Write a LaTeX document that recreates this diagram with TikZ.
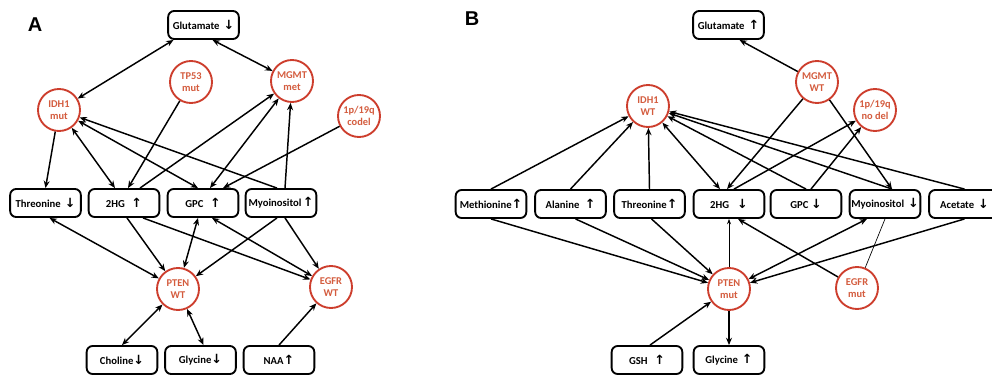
\documentclass[tikz,border=0pt]{standalone}
\usepackage{fontspec}
\setmainfont{Carlito}
\newfontfamily\symf{DejaVu Sans Bold}
\newfontfamily\labf{Liberation Sans}
\usetikzlibrary{arrows.meta,calc}
\definecolor{cborder}{RGB}{205,62,45}
\definecolor{ctext}{RGB}{212,92,62}
\newcommand{\upa}{{\symf\fontsize{9.5}{9}\selectfont ↑}}
\newcommand{\dna}{{\symf\fontsize{9.5}{9}\selectfont ↓}}
\begin{document}
\begin{tikzpicture}[x=0.75pt,y=-0.75pt,
  metab/.style={draw=black, fill=white, line width=1.4pt, rounded corners=4.5pt,
    minimum width=53pt, minimum height=21pt, inner sep=0pt,
    font=\fontsize{8}{9}\selectfont\bfseries},
  gene/.style={circle, draw=cborder, fill=white, line width=1.4pt, minimum size=31.5pt,
    inner sep=0pt, text=ctext, align=center,
    font=\fontsize{7.8}{9.5}\selectfont\bfseries},
  conn/.style={line width=1.1pt, draw=black},
  ar/.style={conn, -{Stealth[length=5.5pt,width=4.5pt]}},
  bar/.style={conn, {Stealth[length=5.5pt,width=4.5pt]}-{Stealth[length=5.5pt,width=4.5pt]}},
  thinar/.style={line width=0.5pt, draw=black, -{Stealth[length=4pt,width=3pt]}},
  thinln/.style={line width=0.5pt, draw=black},
  panel/.style={font=\labf\bfseries\fontsize{15}{15}\selectfont}
]
\useasboundingbox (0,0) rectangle (992,376);

% ---------------- Panel A ----------------
\node[panel] (labA) at (35,25) {A};
\node[metab] (aglu) at (203.5,25) {Glutamate\hspace{3pt}\dna};
\node[gene] (aidh) at (59,110) {IDH1\\mut};
\node[gene] (atp53) at (191,82) {TP53\\mut};
\node[gene] (amgmt) at (292,81) {MGMT\\met};
\node[gene] (a1p) at (359,116) {1p/19q\\codel};
\node[metab] (athr) at (45.5,203) {Threonine\hspace{3pt}\dna};
\node[metab] (a2hg) at (124,203) {2HG\hspace{5pt}\upa};
\node[metab] (agpc) at (203,203) {GPC\hspace{5pt}\upa};
\node[metab] (amyo) at (281,203) {Myoinositol\hspace{1pt}\upa};
\node[gene] (apten) at (178,289) {PTEN\\WT};
\node[gene] (aegfr) at (331,287) {EGFR\\WT};
\node[metab] (acho) at (122,360) {Choline\dna};
\node[metab] (agly) at (200.5,360) {Glycine\dna};
\node[metab] (anaa) at (279,360) {NAA\upa};

\draw[bar] ($(aglu.south)+(-30,0)$) -- (aidh);
\draw[bar] ($(aglu.south)+(9,0)$) -- (amgmt);
\draw[ar] (aidh) -- (athr.north);
\draw[bar] (aidh) -- ($(a2hg.north)+(-9,0)$);
\draw[bar] (aidh) -- ($(agpc.north)+(-5,0)$);
\draw[ar] ($(amyo.north)+(-4,0)$) -- (aidh);
\draw[ar] (atp53) -- ($(a2hg.north)+(4,0)$);
\draw[ar] ($(a2hg.north)+(16,0)$) -- (amgmt);
\draw[bar] ($(agpc.north)+(7,0)$) -- (amgmt);
\draw[ar] ($(amyo.north)+(4,0)$) -- (amgmt);
\draw[ar] (a1p) -- ($(agpc.north)+(20,0)$);
\draw[bar] ($(athr.south)+(4,0)$) -- (apten);
\draw[ar] ($(a2hg.south)+(3,0)$) -- (apten);
\draw[ar] ($(a2hg.south)+(19,0)$) -- (aegfr);
\draw[bar] ($(agpc.south)+(-5,0)$) -- (apten);
\draw[bar] ($(agpc.south)+(9,0)$) -- (aegfr);
\draw[ar] ($(amyo.south)+(-4,0)$) -- (apten);
\draw[ar] ($(amyo.south)+(4,0)$) -- (aegfr);
\draw[bar] (apten) -- (acho.north);
\draw[bar] (apten) -- ($(agly.north)+(3,0)$);
\draw[ar] (anaa.north) -- (aegfr);

% ---------------- Panel B ----------------
\node[panel] (labB) at (472,19) {B};
\node[metab] (bglu) at (728.5,25) {Glutamate\hspace{3pt}\upa};
\node[gene] (bmgmt) at (817,82) {MGMT\\WT};
\node[gene] (bidh) at (648,106) {IDH1\\WT};
\node[gene] (b1p) at (875,110) {1p/19q\\no del};
\node[metab] (bmet) at (491,204) {Methionine\upa};
\node[metab] (bala) at (570.5,204) {Alanine\hspace{4pt}\upa};
\node[metab] (bthr) at (649.5,204) {Threonine\upa};
\node[metab] (b2hg) at (729,204) {2HG\hspace{6pt}\dna};
\node[metab] (bgpc) at (806,204) {GPC\hspace{2pt}\dna};
\node[metab] (bmyo) at (885,204) {Myoinositol\hspace{3pt}\dna};
\node[metab] (bace) at (964.5,204) {Acetate\hspace{3pt}\dna};
\node[gene] (bpten) at (729,289) {PTEN\\mut};
\node[gene] (begfr) at (857,288) {EGFR\\mut};
\node[metab] (bgsh) at (647,360) {GSH\hspace{5pt}\upa};
\node[metab] (bgly) at (729,360) {Glycine\hspace{3pt}\upa};

\draw[ar] (bmgmt) -- ($(bglu.south)+(11,0)$);
\draw[ar] (bmet.north) -- (bidh);
\draw[ar] (bala.north) -- (bidh);
\draw[ar] (bthr.north) -- (bidh);
\draw[bar] (bidh) -- ($(b2hg.north)+(-9,0)$);
\draw[ar] ($(bgpc.north)+(0,0)$) -- (bidh);
\draw[ar] ($(bmyo.north)+(7,0)$) -- (bidh);
\draw[ar] (bace.north) -- (bidh);
\draw[ar] (bmgmt) -- ($(b2hg.north)+(-2,0)$);
\draw[ar] ($(b2hg.north)+(5,0)$) -- (b1p);
\draw[ar] ($(bgpc.north)+(5,0)$) -- (b1p);
\draw[ar] (bmgmt) -- ($(bmyo.north)+(7,0)$);
\draw[ar] (bmet.south) -- (bpten);
\draw[ar] ($(bala.south)+(5,0)$) -- (bpten);
\draw[ar] ($(bthr.south)+(2,0)$) -- (bpten);
\draw[thinar] (bpten) -- (b2hg.south);
\draw[ar] (begfr) -- ($(b2hg.south)+(9,0)$);
\draw[bar] (bpten) -- ($(bmyo.south)+(-18,0)$);
\draw[thinln] (begfr) -- (bmyo.south);
\draw[ar] (bace.south) -- (bpten);
\draw[ar] ($(bgsh.north)+(3,0)$) -- (bpten);
\draw[ar] (bpten) -- (bgly.north);
\end{tikzpicture}
\end{document}
